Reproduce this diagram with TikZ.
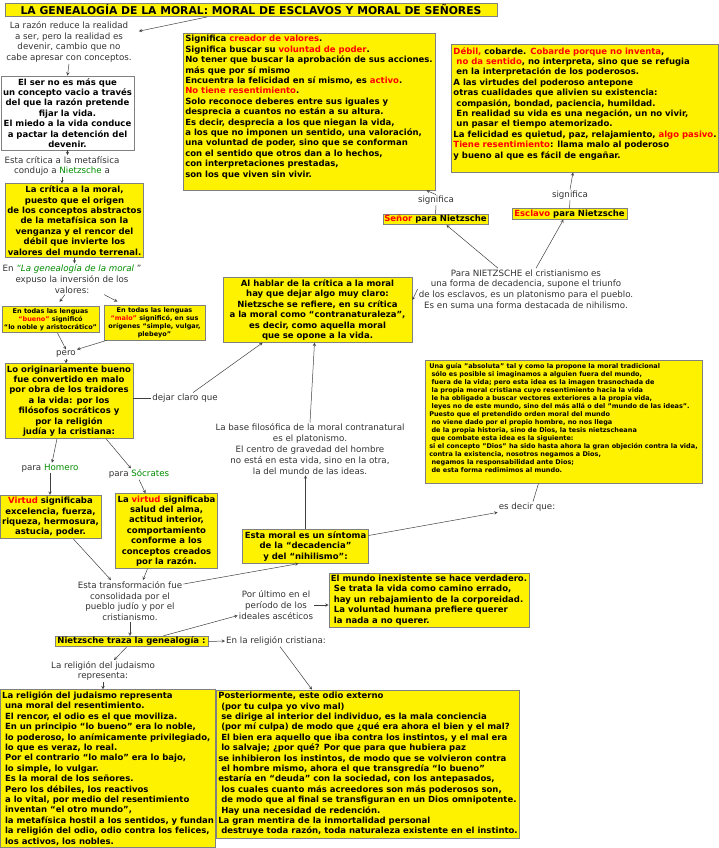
\documentclass[tikz,border=0pt]{standalone}
\usepackage{fontspec}
\setmainfont{DejaVu Sans}
\usetikzlibrary{arrows}
\newcommand{\rojo}[1]{\textcolor{red}{#1}}
\newcommand{\verde}[1]{\textcolor{green!55!black}{#1}}
\newcommand{\idt}{\hspace*{0.35em}}

\begin{document}
\begin{tikzpicture}[x=1pt,y=-1pt,
    block/.style={rectangle,draw=gray,line width=0.8pt,fill=yellow,inner sep=2pt,align=center,font=\fontsize{8.5}{10.4}\selectfont\bfseries},
    smallblock/.style={block,font=\fontsize{6.5}{8}\selectfont\bfseries},
    plain/.style={inner sep=1pt,align=center,text=black!80,font=\fontsize{8.7}{10.8}\selectfont},
    arrow/.style={->,>=stealth,draw=black!75,line width=0.5pt},
    link/.style={draw=black!75,line width=0.5pt}
]
    \useasboundingbox (0,0) rectangle (719,848);

    \node[block,minimum width=492pt,font=\fontsize{10.8}{12}\selectfont\bfseries,inner sep=1.5pt] (title) at (251,10) {LA GENEALOGÍA DE LA MORAL: MORAL DE ESCLAVOS Y MORAL DE SEÑORES};

    \node[plain] (razon) at (69,42) {La razón reduce la realidad\\a ser, pero la realidad es\\devenir, cambio que no\\cabe apresar con conceptos.};
    \node[block,fill=white,minimum width=131pt,minimum height=74pt] (ser) at (67.5,113) {El ser no es más que\\un concepto vacio a través\\del que la razón pretende\\fijar la vida.\\El miedo a la vida conduce\\a pactar  la detención del\\devenir.};
    \node[plain] (critmeta) at (62,166) {Esta crítica a la metafísica\\condujo a \verde{Nietzsche} a};
    \node[block,minimum width=137pt,minimum height=73pt] (critmoral) at (74.5,220.5) {La crítica a la moral,\\puesto que el origen\\de los conceptos abstractos\\de la metafísica son la\\venganza y el rencor del\\débil que invierte los\\valores del mundo terrenal.};
    \node[plain] (genealogia) at (72,279) {En \verde{\itshape “La genealogía de la moral} ”\\expuso la inversión de los\\valores:};
    \node[smallblock,minimum width=97pt,minimum height=25pt] (bueno) at (50.5,319.5) {En todas las lenguas\\\rojo{“bueno”} significó\\“lo noble y aristocrático”};
    \node[smallblock,minimum width=101pt,minimum height=35pt] (malo) at (154.5,322.5) {En todas las lenguas\\\rojo{“malo”} significó, en sus\\orígenes “simple, vulgar,\\plebeyo”};
    \node[plain] (pero) at (66,354) {pero};
    \node[block,minimum width=128pt,minimum height=74pt] (originario) at (69,401) {Lo originariamente bueno\\fue convertido en malo\\por obra de los traidores\\a la vida:  por los\\filósofos socráticos y\\por la religión\\judía y la cristiana:};
    \node[plain] (dejar) at (185,398) {dejar claro que};

    \node[block,align=left,minimum width=252pt,minimum height=157pt] (senorval) at (309,111.5) {Significa \rojo{creador de valores}.\\Significa buscar su \rojo{voluntad de poder}.\\No tener que buscar la aprobación de sus acciones.\\más que por sí mismo\\Encuentra la felicidad en sí mismo, es \rojo{activo}.\\\rojo{No tiene resentimiento}.\\Solo reconoce deberes entre sus iguales y\\desprecia a cuantos no están a su altura.\\Es decir, desprecia a los que niegan la vida,\\a los que no imponen un sentido, una valoración,\\una voluntad de poder, sino que se conforman\\con el sentido que otros dan a lo hechos,\\con interpretaciones prestadas,\\son los que viven sin vivir.\\ \mbox{}};
    \node[block,align=left,minimum width=266pt,minimum height=128pt] (esclavoval) at (585,108) {\rojo{Débil,} cobarde. \rojo{Cobarde porque no inventa},\\\idt\rojo{no da sentido}, no interpreta, sino que se refugia\\\idt en la interpretación de los poderosos.\\A las virtudes del poderoso antepone\\otras cualidades que alivien su existencia:\\\idt compasión, bondad, paciencia, humildad.\\\idt En realidad su vida es una negación, un no vivir,\\\idt un pasar el tiempo atemorizado.\\La felicidad es quietud, paz, relajamiento, \rojo{algo pasivo}.\\\rojo{Tiene resentimiento}: llama malo al poderoso\\y bueno al que es fácil de engañar.\\ \mbox{}};
    \node[plain] (sig1) at (436,200) {significa};
    \node[plain] (sig2) at (570,195) {significa};
    \node[block,minimum width=105pt,inner sep=1pt] (senor) at (435.5,219.5) {\rojo{Señor} para Nietzsche};
    \node[block,minimum width=115pt,inner sep=1pt] (esclavo) at (569.5,214) {\rojo{Esclavo} para Nietzsche};
    \node[plain] (paranietzsche) at (526,289) {Para NIETZSCHE el cristianismo es\\una forma de decadencia, supone el triunfo\\de los esclavos, es un platonismo para el pueblo.\\Es en suma una forma destacada de nihilismo.};
    \node[block,minimum width=189pt,minimum height=64pt] (alhablar) at (317.5,310) {Al hablar de la crítica a la moral\\hay que dejar algo muy claro:\\Nietzsche se refiere, en su crítica\\a la moral  como “contranaturaleza”,\\es decir, como aquella moral\\que se opone a la vida.};

    \node[smallblock,minimum width=277pt,minimum height=123pt,align=left] (guia) at (563.5,421.5) {Una guía "absoluta" tal y como la propone la moral tradicional\\\idt sólo es posible si imaginamos a alguien fuera del mundo,\\\idt fuera de la vida; pero esta idea es la imagen trasnochada de\\\idt la propia moral cristiana cuyo resentimiento hacia la vida\\\idt le ha obligado a buscar vectores exteriores a la propia vida,\\\idt leyes no de este mundo, sino del más allá o del "mundo de las ideas".\\Puesto que el pretendido orden moral del mundo\\\idt no viene dado por el propio hombre, no nos llega\\\idt de la propia historia, sino de Dios, la tesis nietzscheana\\\idt que combate esta idea es la siguiente:\\si el concepto "Dios" ha sido hasta ahora la gran objeción contra la vida,\\contra la existencia, nosotros negamos a Dios,\\\idt negamos la responsabilidad ante Dios;\\\idt de esta forma redimimos al mundo.\\ \mbox{}};
    \node[plain] (esdecir) at (527,507) {es decir que:};
    \node[plain] (base) at (310,449) {La base filosófica de la moral contranatural\\es el platonismo.\\El centro de gravedad del hombre\\no está en esta vida, sino en la otra,\\la del mundo de las ideas.};
    \node[block,minimum width=125pt,minimum height=33pt] (sintoma) at (305.5,546.5) {Esta moral es un síntoma\\de la “decadencia”\\y del “nihilismo”:};

    \node[plain] (homero) at (50,468) {para \verde{Homero}};
    \node[plain] (socrates) at (139,474) {para \verde{Sócrates}};
    \node[block,minimum width=99pt,minimum height=42pt] (virtud) at (50.5,517) {\rojo{Virtud} significaba\\excelencia, fuerza,\\riqueza, hermosura,\\astucia, poder.};
    \node[block,minimum width=101pt,minimum height=74pt] (virtud2) at (166.5,531) {La \rojo{virtud} significaba\\salud del alma,\\actitud interior,\\comportamiento\\conforme a los\\conceptos creados\\por la razón.};
    \node[plain] (transform) at (130,601) {Esta transformación fue\\consolidada por el\\pueblo judío y por el\\cristianismo.};
    \node[block,minimum width=153pt,inner sep=1pt] (traza) at (131.5,641.5) {Nietzsche traza la genealogía :};
    \node[plain] (ultimo) at (276,605) {Por último en el\\período de los\\ideales ascéticos};
    \node[block,minimum width=200pt,minimum height=54pt,align=left] (mundo) at (429,600) {El mundo inexistente se hace verdadero.\\\idt Se trata la vida como camino errado,\\\idt hay un rebajamiento de la corporeidad.\\\idt La voluntad humana prefiere querer\\\idt la nada a no querer.};
    \node[plain] (cristiana) at (276,641) {En la religión cristiana:};
    \node[plain] (judaismo) at (103,671) {La religión del judaismo\\representa:};

    \node[block,minimum width=214pt,minimum height=155pt,align=left] (judbox) at (108,768.5) {La religión del judaismo representa\\\idt una moral del resentimiento.\\\idt El rencor, el odio es el que moviliza.\\\idt En un principio “lo bueno” era lo noble,\\\idt lo poderoso, lo anímicamente privilegiado,\\\idt lo que es veraz, lo real.\\\idt Por el contrario “lo malo” era lo bajo,\\\idt lo simple, lo vulgar.\\\idt Es la moral de los señores.\\\idt Pero los débiles, los reactivos\\\idt a lo vital, por medio del resentimiento\\\idt inventan “el otro mundo”,\\\idt la metafísica hostil a los sentidos, y fundan\\\idt la religión del odio, odio contra los felices,\\\idt los activos, los nobles.};
    \node[block,align=left,minimum width=302pt,minimum height=148pt] (postr) at (368,764) {Posteriormente, este odio externo\\\idt (por tu culpa yo vivo mal)\\\idt se dirige al interior del individuo, es la mala conciencia\\\idt (por mí culpa) de modo que ¿qué era ahora el bien y el mal?\\\idt El bien era aquello que iba contra los instintos, y el mal era\\\idt lo salvaje; ¿por qué? Por que para que hubiera paz\\se inhibieron los instintos, de modo que se volvieron contra\\\idt el hombre mismo, ahora el que transgredía “lo bueno”\\estaría en “deuda” con la sociedad, con los antepasados,\\\idt los cuales cuanto más acreedores son más poderosos son,\\\idt de modo que al final se transfiguran en un Dios omnipotente.\\\idt Hay una necesidad de redención.\\La gran mentira de la inmortalidad personal\\\idt destruye toda razón, toda naturaleza existente en el instinto.};

    \draw[arrow] ([xshift=-44pt]title.south) -- ([xshift=6pt,yshift=-11pt]razon.north east);
    \draw[arrow] (razon.south) -- (ser.north);
    \draw[arrow] (ser.south) -- (ser.south |- critmeta.north);
    \draw[arrow] (critmeta.south) -- (critmeta.south |- critmoral.north);
    \draw[arrow] (critmoral.south) -- (critmoral.south |- genealogia.north);
    \draw[arrow] ([xshift=-7pt]genealogia.south) -- ([xshift=9pt,yshift=4pt]bueno.north);
    \draw[arrow] ([xshift=32pt]genealogia.south) -- ([xshift=-37pt,yshift=3pt]malo.north);
    \draw[arrow] ([xshift=7pt]bueno.south) -- (pero.north);
    \draw[arrow] ([xshift=-48pt]malo.south) -- (pero.north east);
    \draw[arrow] (pero.south) -- (pero.south |- originario.north);
    \draw[link] (originario.east |- dejar.west) -- (dejar.west);
    \draw[arrow] ([xshift=8pt]dejar.north) -- ([xshift=40pt]alhablar.south west);
    \draw[arrow] (paranietzsche.west) -- ([yshift=10pt]alhablar.east);
    \draw[arrow] ([xshift=-28pt]paranietzsche.north) -- ([xshift=11pt]senor.south);
    \draw[arrow] ([xshift=10pt]paranietzsche.north) -- ([xshift=-6pt]esclavo.south);
    \draw[link] (senor.north) -- (sig1.south);
    \draw[arrow] (sig1.north) -- ([xshift=-9pt]senorval.south east);
    \draw[link] (esclavo.north) -- (sig2.south);
    \draw[arrow] (sig2.north) -- ([xshift=-12pt]esclavoval.south);
    \draw[arrow] (base.north) -- ([xshift=-3pt]alhablar.south);
    \draw[arrow] (sintoma.north) -- (sintoma.north |- base.south);
    \draw[arrow] ([yshift=11pt]sintoma.east) -- (esdecir.south west);
    \draw[link] ([xshift=-25pt]guia.south) -- ([xshift=6pt]esdecir.north);
    \draw[arrow] ([xshift=-12pt]originario.south) -- ([xshift=2pt]homero.north);
    \draw[arrow] ([xshift=37pt]originario.south) -- ([xshift=-8pt]socrates.north);
    \draw[arrow] (homero.south) -- (homero.south |- virtud.north);
    \draw[arrow] (socrates.south) -- ([xshift=-21pt]virtud2.north);
    \draw[arrow] ([xshift=23pt]virtud.south) -- ([xshift=-19pt]transform.north);
    \draw[arrow] ([xshift=-19pt]virtud2.south) -- ([xshift=13pt]transform.north);
    \draw[arrow] ([yshift=-4pt]transform.north east) -- ([xshift=-7pt]sintoma.south);
    \draw[arrow] (transform.south) -- (transform.south |- traza.north);
    \draw[arrow] ([xshift=32pt]traza.north) -- ([yshift=5pt]ultimo.south west);
    \draw[arrow] (ultimo.east) -- (ultimo.east -| mundo.west);
    \draw[arrow] (traza.east) -- (cristiana.west);
    \draw[arrow] ([xshift=4pt]cristiana.south) -- ([xshift=-56pt]postr.north);
    \draw[arrow] ([xshift=-5pt]traza.south) -- ([xshift=11pt]judaismo.north);
    \draw[arrow] (judaismo.south) -- (judaismo.south |- judbox.north);
\end{tikzpicture}
\end{document}
